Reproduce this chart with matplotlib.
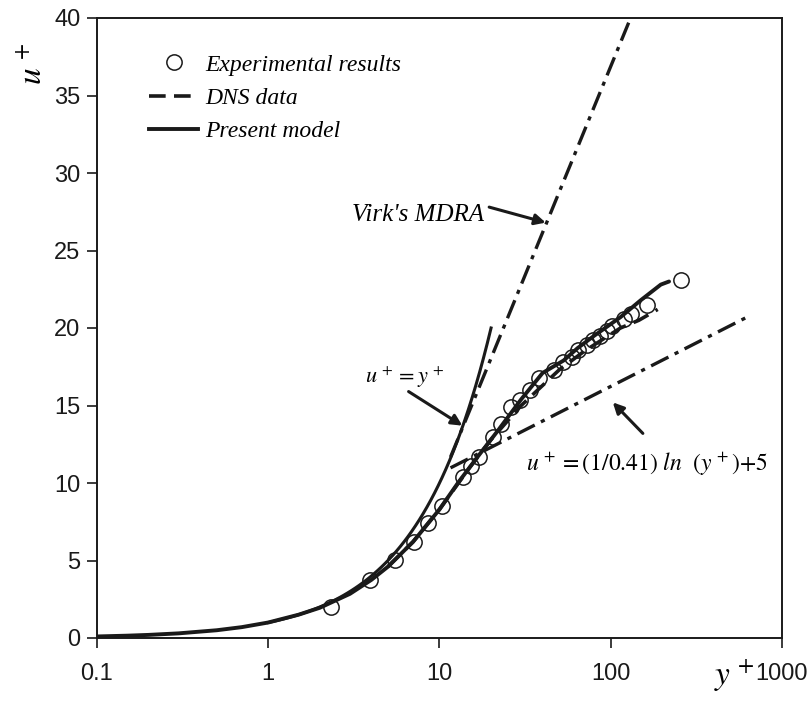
import numpy as np
import matplotlib
matplotlib.use("Agg")
import matplotlib.pyplot as plt
from matplotlib.lines import Line2D

plt.rcParams['mathtext.fontset'] = 'stix'
plt.rcParams['lines.scale_dashes'] = False

# ---------- DATA ----------
exp_y = [2.33, 3.95, 5.5, 7.05, 8.6, 10.4, 13.8, 15.2, 17.1, 20.4, 23.0, 26.0, 29.7,
         33.6, 37.9, 46.5, 52.5, 59.0, 64.8, 72.4, 78.5, 86.3, 94.8, 102, 119, 131, 162, 257]
exp_u = [2.0, 3.75, 5.05, 6.2, 7.45, 8.5, 10.4, 11.1, 11.65, 13.0, 13.8, 14.9, 15.35,
         16.0, 16.8, 17.3, 17.8, 18.1, 18.6, 18.9, 19.2, 19.5, 19.8, 20.1, 20.6, 20.9, 21.5, 23.1]

model_y = [0.1, 0.15, 0.2, 0.3, 0.5, 0.7, 1, 1.5, 2, 3, 4, 5, 7, 10, 13, 17, 22, 30,
           40, 53, 64, 80, 114, 150, 196, 219]
model_u = [0.1, 0.15, 0.2, 0.3, 0.5, 0.7, 1.0, 1.5, 1.95, 2.85, 3.75, 4.6, 6.2, 8.3, 10.1,
           11.8, 13.4, 15.4, 17.1, 17.9, 18.7, 19.5, 20.7, 21.8, 22.8, 23.0]

dns_y = [5, 7, 10, 15, 20, 30, 50, 70, 100, 114, 146, 188]
dns_u = [4.6, 6.2, 8.3, 11.0, 12.8, 15.0, 17.3, 18.5, 19.6, 20.0, 20.5, 21.2]

visc_y = [1, 20]          # u+ = y+
virk_y = [11.6, 135]      # u+ = 11.7 ln y+ - 17
log_y = [11.6, 620]       # u+ = (1/0.41) ln y+ + 5

# ---------- PLOT ----------
fig = plt.figure(figsize=(8.12, 7.04), dpi=100)
ax = fig.add_axes([97 / 812, 1 - 638 / 704, 685 / 812, 620 / 704])
ink = '#1a1a1a'

vy = np.geomspace(visc_y[0], visc_y[1], 60)
ax.plot(vy, vy, color=ink, lw=2.2)

ky = np.geomspace(virk_y[0], virk_y[1], 60)
ax.plot(ky, 11.7 * np.log(ky) - 17, color=ink, lw=2.4, dashes=(14, 5, 3, 5))

ly = np.geomspace(log_y[0], log_y[1], 60)
ax.plot(ly, np.log(ly) / 0.41 + 5, color=ink, lw=2.4, dashes=(14, 5, 3, 5))

ax.plot(dns_y, dns_u, color=ink, lw=2.6, dashes=(12, 6))
ax.plot(model_y, model_u, color=ink, lw=2.8, solid_capstyle='round')
ax.plot(exp_y, exp_u, 'o', mfc='none', mec=ink, ms=11, mew=1.1)

ax.set_xscale('log')
ax.set_xlim(0.1, 1000)
ax.set_ylim(0, 40)
ax.set_xticks([0.1, 1, 10, 100, 1000])
ax.set_xticklabels(['0.1', '1', '10', '100', '1000'])
ax.set_yticks(range(0, 41, 5))
ax.minorticks_off()
ax.tick_params(direction='out', length=7, width=1.2, labelsize=17, colors=ink, pad=5)
ax.tick_params(axis='x', pad=11)
for lab in ax.get_xticklabels() + ax.get_yticklabels():
    lab.set_family('Liberation Sans')
for sp in ax.spines.values():
    sp.set_linewidth(1.4)
    sp.set_color(ink)

fig.text(32 / 812, 1 - 64 / 704, r'$u^{\,+}$', rotation=90, fontsize=24,
         ha='center', va='center')
fig.text(734 / 812, 1 - 676 / 704, r'$y^{\,+}$', fontsize=24, ha='center', va='center')

# legend
handles = [
    Line2D([], [], ls='none', marker='o', mfc='none', mec=ink, ms=11, mew=1.1),
    Line2D([], [], color=ink, lw=2.6, dashes=(12, 6)),
    Line2D([], [], color=ink, lw=2.8),
]
ax.legend(handles, ['Experimental results', 'DNS data', 'Present model'],
          loc='upper left', bbox_to_anchor=(0.062, 0.957), frameon=False,
          prop={'family': 'Liberation Serif', 'style': 'italic', 'size': 17},
          handlelength=2.1, handletextpad=0.3, labelspacing=0.5, borderaxespad=0)

# annotations
arrow = dict(arrowstyle='-|>', color=ink, lw=2.2, mutation_scale=16, shrinkA=0, shrinkB=0)
ax.text(3.1, 27.3, "Virk's MDRA", fontsize=18, family='Liberation Serif', style='italic',
        va='center', ha='left')
ax.annotate('', xy=(41.7, 26.8), xytext=(19.5, 27.8), arrowprops=arrow)

ax.text(3.69, 16.8, r'$u^{\,+} = y^{\,+}$', fontsize=16, va='center', ha='left')
ax.annotate('', xy=(13.6, 13.7), xytext=(6.6, 15.9), arrowprops=arrow)

ax.text(31.8, 11.2, r'$u^{\,+} = \mathrm{(1/0.41)}\ ln\ \ (y^{\,+})\mathrm{+ 5}$',
        fontsize=17, va='center', ha='left')
ax.annotate('', xy=(102.8, 15.2), xytext=(154, 13.2), arrowprops=arrow)

fig.savefig('out.png', dpi=100)
